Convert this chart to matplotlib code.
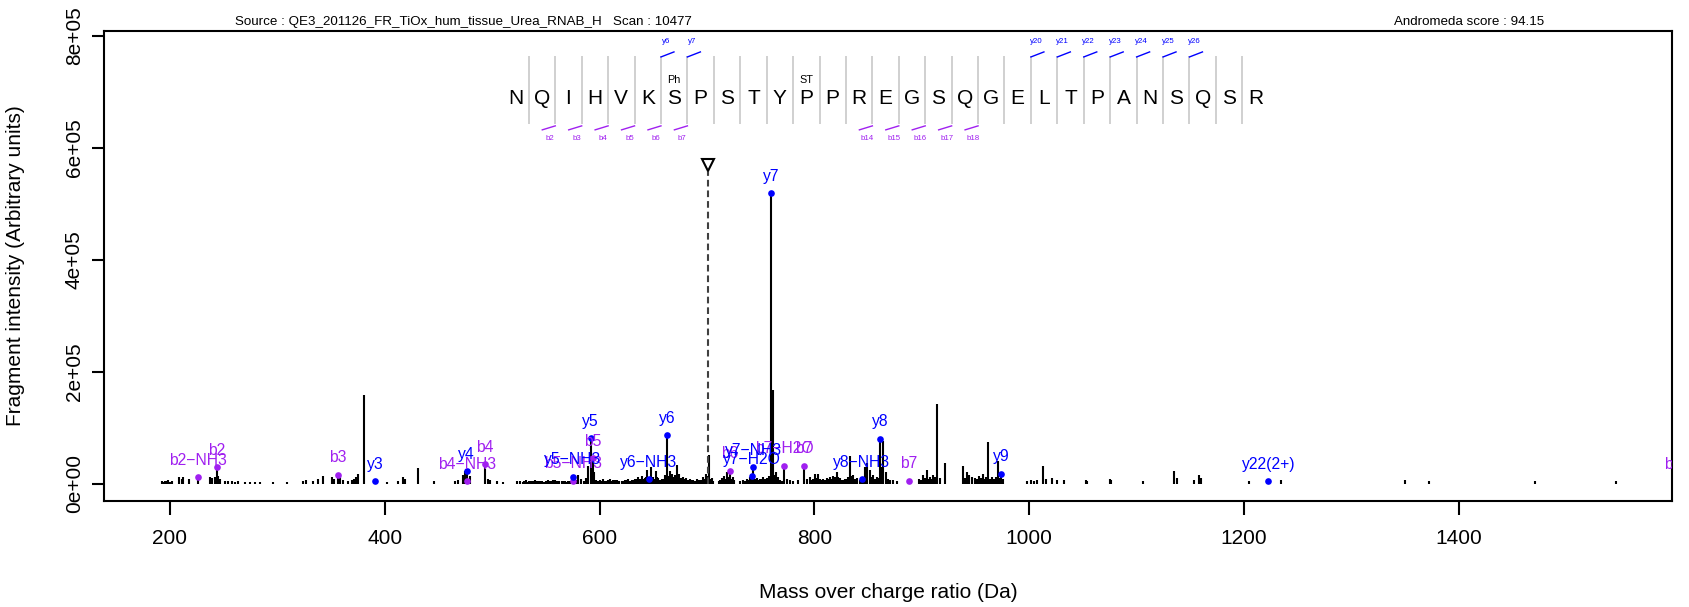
import matplotlib
matplotlib.use("Agg")
import matplotlib.pyplot as plt
from matplotlib.transforms import offset_copy
import numpy as np

plt.rcParams["font.family"] = ["Liberation Sans", "DejaVu Sans"]

# spectrum peaks (m/z, intensity in thousands)
peak_mz = [192.2, 193.5, 195.3, 196.8, 198.4, 200.0, 201.5, 208.7, 210.9, 212.4, 217.7, 226.4,
           237.2, 238.8, 241.9, 243.4, 245.0, 246.5, 251.2, 254.3, 257.4, 260.5, 263.6, 269.8,
           274.5, 279.1, 283.8, 295.6, 308.6, 324.1, 326.6, 333.4, 338.1, 342.1, 350.5, 352.7,
           356.7, 358.3, 360.7, 366.0, 369.1, 371.3, 373.1, 375.3, 380.6, 390.8, 401.7, 412.6,
           417.2, 418.8, 431.2, 445.8, 465.3, 468.4, 473.1, 474.6, 476.2, 476.8, 479.3, 493.2,
           496.3, 497.9, 504.1, 510.3, 522.7, 525.8, 528.9, 531.5, 534.0, 537.0, 540.0, 543.0,
           546.0, 549.0, 552.0, 555.0, 558.0, 561.0,
           564.6, 567.7, 570.8, 574.9, 575.5, 580.1, 589.4, 591.6, 593.5, 594.7, 600.3, 603.4,
           606.5, 609.6, 612.7, 615.8, 620.5, 623.6, 626.7, 629.8, 632.9, 636.0, 639.1, 642.2,
           644.4, 645.9, 647.5, 650.0, 652.1, 654.6, 657.7, 660.8, 662.7, 665.5, 667.6, 671.7,
           674.1, 677.3, 680.4, 684.1, 687.2, 690.9, 693.4, 696.5, 699.0, 701.8, 704.2, 713.6,
           715.7, 718.2, 721.3, 723.8, 730.6, 733.7, 736.8, 739.9, 742.1, 743.0, 746.1, 749.2,
           752.3, 755.4, 757.9, 759.8, 761.2, 764.1, 766.3, 771.9, 774.1, 777.2, 780.3, 784.9,
           790.2, 792.7, 795.8, 800.4, 803.5, 808.2, 811.3, 814.4, 817.5, 820.6, 823.7, 828.4,
           833.0, 836.1, 839.2, 844.2, 847.0, 849.2, 851.6, 854.7, 857.8, 860.9, 864.0, 866.5,
           870.3, 873.4, 876.5, 887.9, 897.6, 901.3, 904.4, 907.5, 910.6, 914.3, 916.8, 921.5,
           938.5, 941.6,
           944.1, 946.9, 949.9, 953.3, 956.7, 959.7, 961.8, 965.3, 970.4, 973.8, 975.5, 998.2,
           1001.6, 1004.6, 1007.6, 1012.3, 1015.3, 1020.8, 1026.0, 1032.4, 1052.4, 1053.7, 1075.1,
           1076.4, 1106.3, 1134.9, 1137.1, 1153.3, 1158.4, 1159.7, 1204.2, 1222.5, 1234.5, 1349.9,
           1372.1, 1470.4, 1546.5]
peak_int = [4, 3, 5, 4, 6, 3, 4, 12, 9, 11, 8, 11,
            12, 10, 11, 29, 14, 9, 5, 4, 4, 3, 4, 3,
            3, 3, 3, 3, 3, 4, 6, 5, 9, 14, 12, 9,
            16, 12, 7, 5, 6, 9, 11, 18, 158, 2, 3, 5,
            11, 8, 28, 4, 5, 7, 16, 23, 22, 4, 13, 35,
            9, 6, 5, 3, 4, 5, 3, 6, 5, 4, 6, 5,
            4, 3, 6, 5, 7, 4,
            4, 5, 4, 12.5, 5, 15, 31, 81, 45, 20, 6, 8,
            5, 9, 6, 7, 5, 6, 8, 7, 9, 12, 14, 10,
            25, 7.7, 30, 12, 22, 10, 8, 15, 86, 22, 17, 34,
            18, 12, 10, 8, 6, 9, 7, 12, 18, 52, 10, 10,
            14, 20, 23, 12, 5, 6, 8, 12, 13, 29, 10, 8,
            12, 10, 14, 519, 168, 20, 12, 32, 8, 6, 5, 6,
            32, 8, 12, 18, 17, 8, 10, 12, 14, 20, 10, 8,
            49, 15, 10, 7.7, 30, 37, 25, 15, 12, 80, 76, 20,
            6, 6, 5, 5.4, 8, 15, 25, 12, 15, 143, 10, 37,
            32, 20,
            15, 12, 10, 14, 18, 12, 75, 12, 40, 18, 8, 5,
            6, 5, 7, 31, 8, 10, 6, 6, 7, 5, 8,
            6, 4, 22, 10, 7, 16, 10, 4, 4, 6, 6,
            5, 5, 5]

# low peaks filling the dense middle part of the spectrum
cluster_mz = [529.9, 532.8, 535.5, 538.5, 541.5, 544.5, 547.5, 550.5, 553.5, 556.5, 559.5, 562.5,
              566.0, 569.0, 572.5, 578.0, 583.0, 585.0, 587.5, 597.0, 598.8, 601.8, 605.0, 608.0,
              611.0, 614.0, 618.0, 622.0, 625.0, 628.0, 631.0, 634.0, 637.5, 640.7, 643.3, 649.0,
              651.0, 653.4, 656.0, 659.0, 664.0, 669.0, 670.5, 673.0, 675.5, 679.0, 682.0, 686.0,
              689.0, 692.0, 695.0, 697.8, 700.5, 703.0, 706.0, 711.0, 712.5, 717.0, 719.7, 722.5,
              725.5, 735.0, 738.3, 741.0, 744.5, 747.7, 750.8, 753.8, 756.7, 762.7, 767.8, 769.5,
              797.0, 798.8, 802.0, 805.0, 806.7, 809.7, 812.8, 816.0, 819.0, 822.0, 825.2, 826.8,
              830.0, 831.5, 834.6, 837.6, 842.6, 845.6, 848.0, 853.0, 856.2, 859.4, 862.4, 868.0,
              899.5, 902.8, 906.0, 909.0, 912.5, 940.0, 943.0, 951.5, 955.0, 958.2, 963.5, 967.0,
              968.8, 972.0]
cluster_int = [4, 3, 4, 5, 4, 5, 3, 5, 4, 6, 5, 4,
               4, 3, 5, 6, 8, 5, 10, 6, 5, 5, 4, 6,
               5, 6, 4, 5, 6, 5, 7, 8, 9, 8, 12, 10,
               9, 12, 7, 9, 14, 12, 15, 12, 10, 8, 7, 6,
               5, 7, 6, 9, 14, 8, 4, 5, 7, 9, 12, 9,
               6, 4, 6, 8, 9, 7, 8, 9, 8, 15, 6, 5,
               6, 9, 10, 9, 6, 7, 8, 9, 11, 12, 7, 6,
               9, 12, 14, 9, 7, 9, 20, 12, 9, 10, 30, 8,
               6, 10, 8, 9, 12, 10, 8, 8, 10, 8, 9, 8,
               12, 10]

# matched fragment ions
y_ion_mz = [390.8, 476.2, 574.9, 591.6, 645.9, 662.7, 742.1, 743.0, 759.8, 844.2, 860.9, 973.8, 1222.5]
y_ion_int = [4, 22, 12.5, 81, 7.7, 86, 13, 29, 519, 7.7, 80, 18, 4]
y_ion_labels = ["y3", "y4", "y5\u2212NH3", "y5", "y6\u2212NH3", "y6", "y7\u2212H2O", "y7\u2212NH3",
                "y7", "y8\u2212NH3", "y8", "y9", "y22(2+)"]
b_ion_mz = [226.4, 243.4, 356.7, 476.8, 493.2, 575.5, 593.5, 721.3, 771.9, 790.2, 887.9, 1603.0]
b_ion_int = [11, 29, 16, 4, 35, 5, 45, 23, 32, 32, 5.4, 3]
b_ion_labels = ["b2\u2212NH3", "b2", "b3", "b4\u2212NH3", "b4", "b5\u2212NH3", "b5", "b6",
                "b7\u2212H2O", "b7", "b7", "b15"]

sequence = "NQIHVKSPSTYPPREGSQGELTPANSQSR"
y_fragments = [6, 7, 20, 21, 22, 23, 24, 25, 26]
b_fragments = [2, 3, 4, 5, 6, 7, 14, 15, 16, 17, 18]
mod_positions = [6, 11]
mod_labels = ["Ph", "ST"]

precursor_mz = 700.6
precursor_level = 570

source_text = "Source : QE3_201126_FR_TiOx_hum_tissue_Urea_RNAB_H   Scan : 10477"
score_text = "Andromeda score : 94.15"

W, H = 1690, 607
fig = plt.figure(figsize=(W / 100, H / 100), dpi=100)
ax = fig.add_axes([104 / W, 1 - 501 / H, (1672 - 104) / W, (501 - 31) / H])

k = 1000.0
ax.vlines(cluster_mz, 0, np.array(cluster_int) * k, color="black", lw=1.5)
ax.vlines(peak_mz, 0, np.array(peak_int) * k, color="black", lw=1.5)

# precursor
ax.vlines(precursor_mz, 0, 558 * k, color="#404040", lw=1.5, linestyles=(0, (3.2, 1.9)))
ax.plot([precursor_mz], [precursor_level * k], marker="v", ms=9, mfc="white", mec="black", mew=1.5)

# ion dots and labels
lab_tr = offset_copy(ax.transData, fig=fig, y=12.2, units="points")
for mzs, ints, labs, col in [(b_ion_mz, b_ion_int, b_ion_labels, "#A020F0"),
                             (y_ion_mz, y_ion_int, y_ion_labels, "#0000FF")]:
    ax.plot(mzs, np.array(ints) * k, "o", color=col, ms=4.8, mec="none")
    for x, v, s in zip(mzs, ints, labs):
        ax.text(x, v * k, s, color=col, fontsize=11.3, ha="center", va="center",
                transform=lab_tr, clip_on=True)

# peptide sequence
seq_x0, seq_step = 521.8, 24.6
letter_x = seq_x0 + seq_step * np.arange(len(sequence))
for x, aa in zip(letter_x, sequence):
    ax.text(x, 687.7 * k, aa, ha="center", va="center", fontsize=15)
sep_x = letter_x[:-1] + seq_step / 2
ax.vlines(sep_x, 642.8 * k, 764.4 * k, color="#c8c8c8", lw=1.2)
for n in y_fragments:
    s = sep_x[n - 1]
    ax.plot([s, s + 12.1], [762.6 * k, 771.6 * k], color="#0000FF", lw=1)
    ax.text(s + 4.7, 789.5 * k, "y%d" % n, color="#0000FF", fontsize=5.7, ha="center", va="center")
for n in b_fragments:
    s = sep_x[n - 1]
    ax.plot([s, s - 12.1], [639.4 * k, 632.3 * k], color="#A020F0", lw=1)
    ax.text(s - 4.7, 616.2 * k, "b%d" % n, color="#A020F0", fontsize=5.7, ha="center", va="center")
for p, m in zip(mod_positions, mod_labels):
    ax.text(letter_x[p], 720.8 * k, m, fontsize=7.8, ha="center", va="center")

ax.set_xlim(138.6, 1598.3)
ax.set_ylim(-31.1 * k, 809 * k)
ax.set_xticks([200, 400, 600, 800, 1000, 1200, 1400])
ax.set_yticks([0, 2e5, 4e5, 6e5, 8e5])
ax.set_yticklabels(["0e+00", "2e+05", "4e+05", "6e+05", "8e+05"], rotation=90, va="center")
ax.tick_params(axis="x", length=10, width=1.5, pad=9.8, labelsize=15)
ax.tick_params(axis="y", length=8.6, width=1.5, pad=5.9, labelsize=15)
for sp in ax.spines.values():
    sp.set_linewidth(1.5)

fig.text(888 / W, 1 - 592 / H, "Mass over charge ratio (Da)", ha="center", va="center", fontsize=15)
fig.text(16 / W, 1 - 266 / H, "Fragment intensity (Arbitrary units)", ha="center", va="center",
         rotation=90, fontsize=15)
fig.text(235 / W, 1 - 22 / H, source_text, ha="left", va="center", fontsize=9.6)
fig.text(1469 / W, 1 - 22 / H, score_text, ha="center", va="center", fontsize=9.6)

fig.savefig("out.png", dpi=100)
